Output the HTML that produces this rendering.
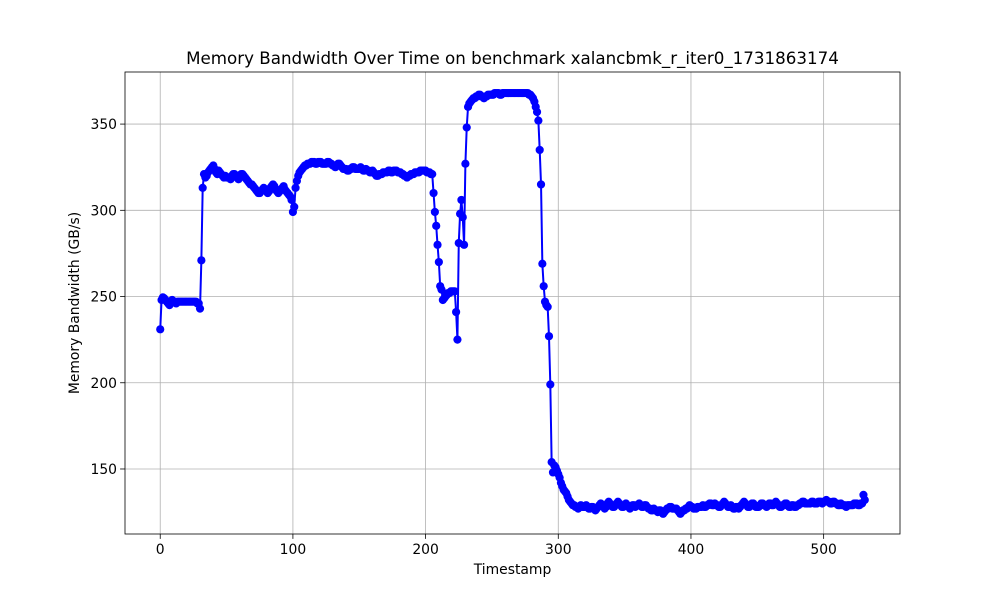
<!DOCTYPE html>
<html><head><meta charset="utf-8"><style>
body{margin:0;background:#fff}
svg{display:block;font-family:"DejaVu Sans","Liberation Sans",sans-serif}
</style></head><body>
<svg id="chart" width="1000" height="600"></svg>
<script>
const xTicks=[0,100,200,300,400,500];
const yTicks=[150,200,250,300,350];
const bandwidth=[
231,248,249.5,249,248,247,246,245,247,248,
247,247,246,247,247,247,247,247,247,247,
247,247,247,247,247,247,247,247,246,246,
243,271,313,321,319,320,322,323,324,325,
326,324,322,321,323,322,321,320,319,320,
319,319,319,318,320,321,321,320,319,318,
320,321,321,320,319,318,317,316,315,315,
314,313,312,311,310,310,311,312,313,312,
311,310,311,313,314,315,314,312,311,310,
311,312,313,314,312,311,310,309,308,306,
299,302,313,317,320,322,323,324,325,326,
326,327,327,327,328,328,328,327,327,328,
328,328,327,327,327,327,328,328,327,327,
326,326,325,326,327,327,326,325,324,324,
324,323,323,324,324,325,325,324,324,324,
324,325,324,323,323,324,323,323,322,322,
323,322,321,320,320,321,321,321,322,322,
322,322,323,323,322,322,323,323,323,322,
322,322,321,321,320,320,319,320,320,321,
321,321,322,322,322,322,323,323,323,323,
323,322,322,322,321,321,310,299,291,280,
270,256,254,248,249,250,251,252,252,253,
253,253,253,241,225,281,298,306,296,280,
327,348,360,362,363,364,365,365,366,366,
367,367,366,366,365,366,366,367,367,367,
367,367,368,368,368,368,367,367,368,368,
368,368,368,368,368,368,368,368,368,368,
368,368,368,368,368,368,368,368,367,367,
366,365,363,360,357,352,335,315,269,256,
247,245,244,227,199,154,148,152,151,149,
147,145,142,140,138,137,136,134,132,131,
130,129,129,128,128,127,128,129,128,128,
128,129,128,127,127,128,128,127,126,127,
128,129,130,129,128,127,128,130,131,130,
129,128,128,129,130,131,130,129,128,128,
129,130,129,128,127,128,129,129,128,129,
129,130,129,128,128,129,129,128,127,127,
126,126,127,126,126,125,126,126,125,124,
125,126,127,127,128,128,127,127,127,127,
126,125,124,125,126,126,127,127,128,129,
128,128,127,127,127,128,128,128,128,129,
128,128,129,129,130,130,129,129,130,129,
129,128,128,129,130,131,130,129,128,128,
129,128,127,127,128,128,127,128,129,130,
131,130,129,128,128,129,130,130,129,128,
128,128,129,130,130,129,129,128,129,130,
130,129,129,130,131,130,129,128,128,129,
129,130,130,129,128,128,129,129,128,128,
129,129,130,130,131,131,130,130,130,130,
130,131,131,130,130,130,131,131,131,130,
131,131,132,131,131,130,130,131,131,130,
130,129,129,130,129,129,129,128,129,129,
129,129,129,130,130,130,129,129,130,130,
135,132];
const timestamps=bandwidth.map((_,i)=>i);

const L=125,R=900,T=72,B=534;
const xmin=-26.55,xmax=557.55,ymin=112.3,ymax=380.2;
const X=v=>L+(v-xmin)/(xmax-xmin)*(R-L);
const Y=v=>B-(v-ymin)/(ymax-ymin)*(B-T);
const NS="http://www.w3.org/2000/svg";
const svg=document.getElementById('chart');
function mk(tag,attrs,parent){const e=document.createElementNS(NS,tag);for(const k in attrs)e.setAttribute(k,attrs[k]);(parent||svg).appendChild(e);return e;}

const grid=mk('g',{});


xTicks.forEach(t=>{
  const l=mk('line',{x1:X(t),x2:X(t),y1:T,y2:B,stroke:'#b0b0b0','stroke-width':0.8},grid);
  
  
  const tk=mk('line',{x1:X(t),x2:X(t),y1:B,y2:B+4.9,stroke:'#000','stroke-width':0.8});
  
  
  const tx=mk('text',{x:X(t),y:B+20,'text-anchor':'middle','font-size':13.9});
  tx.textContent=t;
  
  
});
yTicks.forEach(t=>{
  const l=mk('line',{x1:L,x2:R,y1:Y(t),y2:Y(t),stroke:'#b0b0b0','stroke-width':0.8},grid);
  
  
  const tk=mk('line',{x1:L-4.9,x2:L,y1:Y(t),y2:Y(t),stroke:'#000','stroke-width':0.8});
  
  
  const tx=mk('text',{x:L-8,y:Y(t)+5,'text-anchor':'end','font-size':13.9});
  tx.textContent=t;
  
  
});

const pts=timestamps.map((t,i)=>X(t).toFixed(2)+','+Y(bandwidth[i]).toFixed(2)).join(' ');
const line=mk('polyline',{points:pts,fill:'none',stroke:'#0000ff','stroke-width':2,'stroke-linejoin':'round'});


const mg=mk('g',{fill:'#0000ff'});


timestamps.forEach((t,i)=>{
  const c=mk('circle',{cx:X(t),cy:Y(bandwidth[i]),r:4.1},mg);
  
  
});

const frame=mk('rect',{x:L,y:T,width:R-L,height:B-T,fill:'none',stroke:'#000','stroke-width':0.8});



const title=mk('text',{x:(L+R)/2,y:T-8,'text-anchor':'middle','font-size':16.7});
title.textContent='Memory Bandwidth Over Time on benchmark xalancbmk_r_iter0_1731863174';


const xl=mk('text',{x:(L+R)/2,y:574,'text-anchor':'middle','font-size':13.9});
xl.textContent='Timestamp';


const yl=mk('text',{x:0,y:0,'text-anchor':'middle','font-size':13.9,transform:`translate(79,${(T+B)/2}) rotate(-90)`});
yl.textContent='Memory Bandwidth (GB/s)';


</script>
</body></html>
